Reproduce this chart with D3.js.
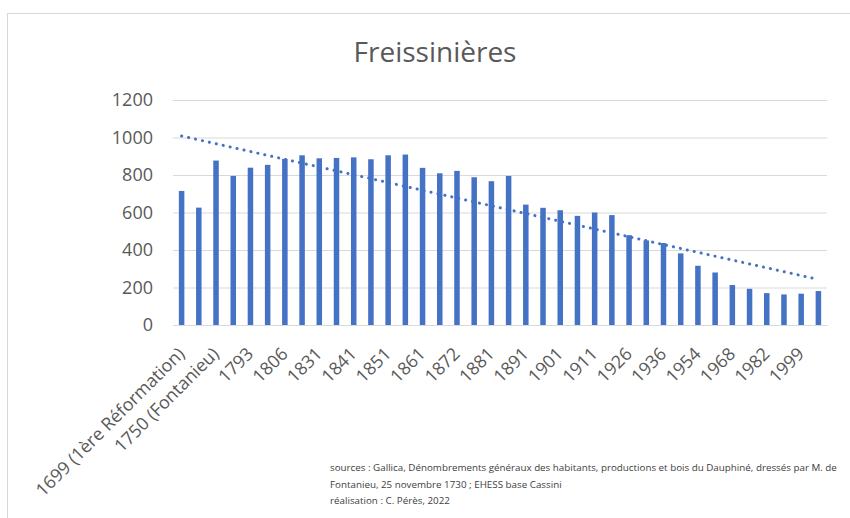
<!DOCTYPE html>
<html>
<head>
<meta charset="utf-8">
<script src="https://cdn.jsdelivr.net/npm/d3@7"></script>
<style>
  html, body { margin: 0; padding: 0; background: #fff; }
  svg { display: block; font-family: "Open Sans", sans-serif; }
</style>
</head>
<body>
<svg id="chart" width="850" height="518"></svg>
<script>
// Census years (only every other one gets a visible axis label)
const years = [
  "1699 (1ère Réformation)", "1720", "1750 (Fontanieu)", "1765", "1793", "1800",
  "1806", "1821", "1831", "1836", "1841", "1846", "1851", "1856", "1861", "1866",
  "1872", "1876", "1881", "1886", "1891", "1896", "1901", "1906", "1911", "1921",
  "1926", "1931", "1936", "1946", "1954", "1962", "1968", "1975", "1982", "1990",
  "1999", "2006"
];
// Population of Freissinières
const population = [
  715, 626, 877, 795, 839, 854, 886, 905, 889, 891,
  894, 884, 905, 909, 838, 809, 822, 788, 767, 795,
  642, 625, 612, 582, 600, 586, 479, 451, 437, 382,
  316, 280, 213, 193, 170, 163, 167, 181
];
const yTicks = [0, 200, 400, 600, 800, 1000, 1200];
const title = "Freissinières";
const sourceLines = [
  "sources : Gallica, Dénombrements généraux des habitants, productions et bois du Dauphiné, dressés par M. de",
  "Fontanieu, 25 novembre 1730 ; EHESS base Cassini",
  "réalisation : C. Pérès, 2022"
];

const svg = d3.select("#chart");
const textColor = "#595959";
const barColor = "#4472C4";
const plot = { left: 173, right: 827, top: 100, bottom: 325 };

// chart frame
svg.append("rect")
  .attr("x", 7.5).attr("y", 13.5)
  .attr("width", 860).attr("height", 520)
  .attr("fill", "none").attr("stroke", "#d9d9d9");

svg.append("text")
  .attr("x", 435).attr("y", 62)
  .attr("text-anchor", "middle")
  .attr("font-size", 28)
  .attr("fill", textColor)
  .text(title);

const x = d3.scaleBand()
  .domain(years)
  .range([plot.left, plot.right])
  .paddingInner(0.68)
  .paddingOuter(0.34);

const y = d3.scaleLinear()
  .domain([0, 1200])
  .range([plot.bottom, plot.top]);

// horizontal gridlines
const yAxis = d3.axisLeft(y)
  .tickValues(yTicks)
  .tickSize(-(plot.right - plot.left))
  .tickPadding(20)
  .tickFormat(d3.format("d"));

const gy = svg.append("g")
  .attr("transform", `translate(${plot.left},0)`)
  .call(yAxis);
gy.select(".domain").remove();
gy.selectAll(".tick line").attr("stroke", "#d9d9d9").attr("stroke-width", 1);
gy.selectAll(".tick text")
  .attr("font-size", 18)
  .attr("fill", textColor)
  .attr("font-family", "Open Sans, sans-serif");

// bars
svg.append("g")
  .selectAll("rect")
  .data(population)
  .join("rect")
  .attr("x", (d, i) => x(years[i]))
  .attr("width", x.bandwidth())
  .attr("y", d => y(d))
  .attr("height", d => y(0) - y(d))
  .attr("fill", barColor);

// x axis line and labels
const xAxis = d3.axisBottom(x)
  .tickValues(years.filter((d, i) => i % 2 === 0))
  .tickSize(0)
  .tickPadding(0);

const gx = svg.append("g")
  .attr("transform", `translate(0,${plot.bottom})`)
  .call(xAxis);
gx.select(".domain").attr("stroke", "#d9d9d9");
gx.selectAll(".tick text")
  .attr("font-size", 17.8)
  .attr("fill", textColor)
  .attr("font-family", "Open Sans, sans-serif")
  .attr("text-anchor", "end")
  .attr("dy", 0)
  .attr("y", 0)
  .attr("transform", "translate(4,30) rotate(-45)");

// linear trendline (least squares over category index)
const n = population.length;
const xs = d3.range(n);
const mx = d3.mean(xs), my = d3.mean(population);
const slope = d3.sum(xs, i => (i - mx) * (population[i] - my)) /
              d3.sum(xs, i => (i - mx) * (i - mx));
const intercept = my - slope * mx;
const trend = [0, n - 1].map(i => [x(years[i]) + x.bandwidth() / 2, y(intercept + slope * i)]);

svg.append("path")
  .attr("d", d3.line()(trend))
  .attr("fill", "none")
  .attr("stroke", barColor)
  .attr("stroke-width", 3)
  .attr("stroke-linecap", "round")
  .attr("stroke-dasharray", "0.1 7");

// source notes
svg.append("g")
  .selectAll("text")
  .data(sourceLines)
  .join("text")
  .attr("x", 330)
  .attr("y", (d, i) => 471 + i * 16.5)
  .attr("font-size", 9.8)
  .attr("fill", "#404040")
  .text(d => d);
</script>
</body>
</html>
